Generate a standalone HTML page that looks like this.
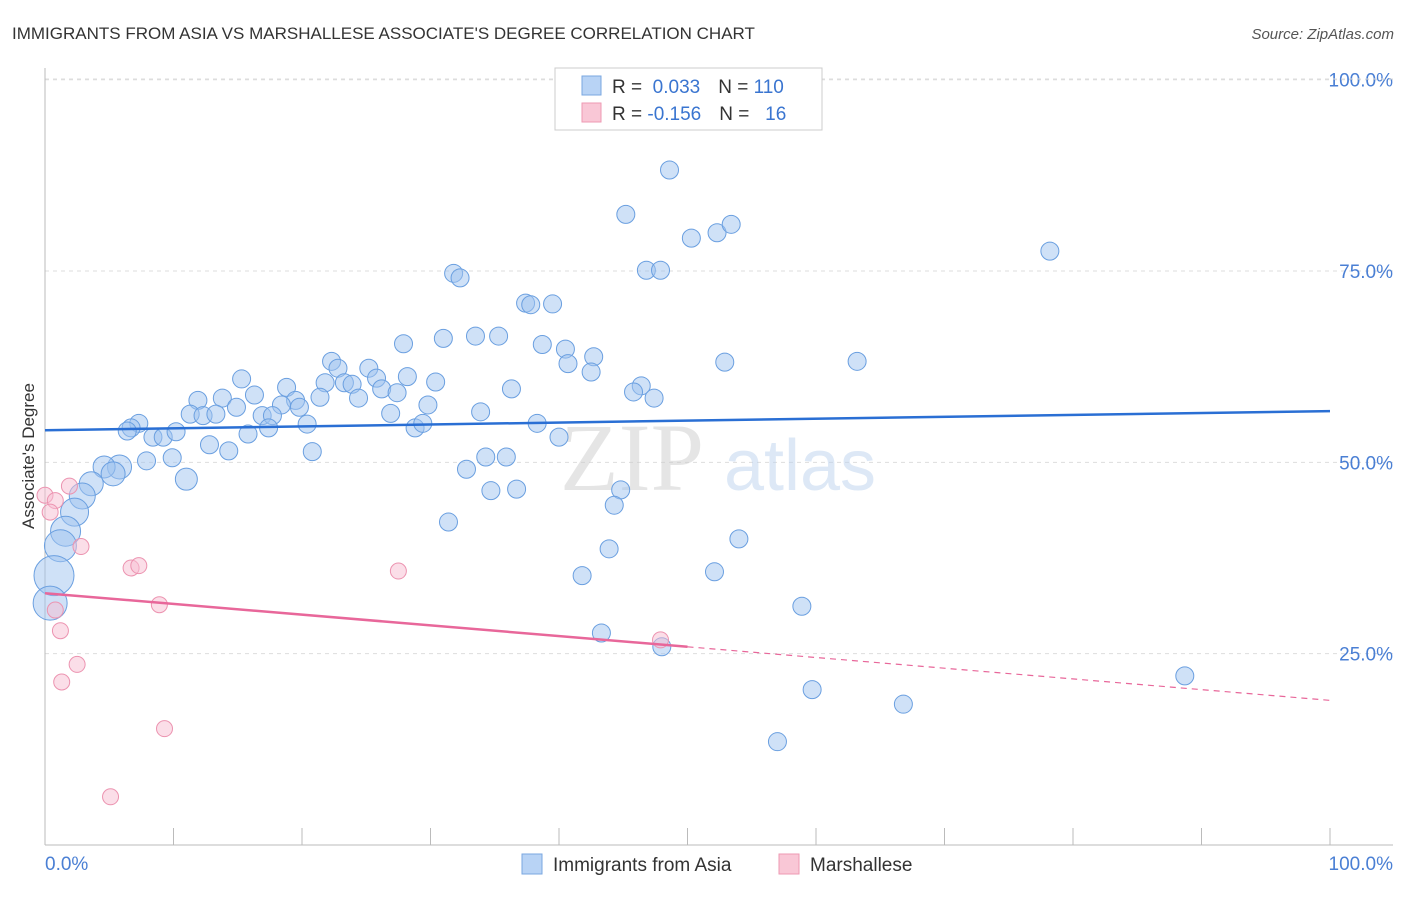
<!DOCTYPE html>
<html><head><meta charset="utf-8"><style>
body{margin:0;background:#fff;font-family:"Liberation Sans",sans-serif}
</style></head><body>
<svg id="chart" width="1406" height="892" xmlns="http://www.w3.org/2000/svg" style="font-family:'Liberation Sans',sans-serif">
<text x="12" y="39" font-size="17" fill="#333">IMMIGRANTS FROM ASIA VS MARSHALLESE ASSOCIATE'S DEGREE CORRELATION CHART</text>
<text x="1394" y="39" font-size="15" fill="#555" text-anchor="end" font-style="italic">Source: ZipAtlas.com</text>
<g id="grid"></g>
<g opacity="0.5">
<text x="632" y="490" font-size="96" fill="#ccc" text-anchor="middle" font-family="Liberation Serif">ZIP</text>
<text x="800" y="490" font-size="72" fill="#bcd3ee" text-anchor="middle">atlas</text>
</g>
<g id="pts"></g>
<g id="trends"></g>
<text transform="translate(34,456) rotate(-90)" font-size="17" fill="#333" text-anchor="middle">Associate's Degree</text>
<g>
<rect x="555" y="68" width="267" height="62" fill="#fff" stroke="#ccc"/>
<rect x="582" y="76" width="19" height="19" fill="#b8d3f5" stroke="#7aa7e0"/>
<rect x="582" y="103" width="19" height="19" fill="#f9c7d6" stroke="#ee9ab3"/>
<text x="612" y="93" font-size="19" fill="#333">R = <tspan fill="#3a75d0">&#160;0.033</tspan><tspan dx="18" fill="#333">N = </tspan><tspan fill="#3a75d0">110</tspan></text>
<text x="612" y="120" font-size="19" fill="#333">R = <tspan fill="#3a75d0">-0.156</tspan><tspan dx="18" fill="#333">N = </tspan><tspan fill="#3a75d0">&#160;&#160;16</tspan></text>
</g>
<g>
<rect x="522" y="854" width="20" height="20" fill="#b8d3f5" stroke="#7aa7e0"/>
<text x="553" y="871" font-size="19" fill="#333">Immigrants from Asia</text>
<rect x="779" y="854" width="20" height="20" fill="#f9c7d6" stroke="#ee9ab3"/>
<text x="810" y="871" font-size="19" fill="#333">Marshallese</text>
</g>
</svg>
<script>
const yTicks=[25,50,75,100];
const yTickLabels=["25.0%","50.0%","75.0%","100.0%"];
const xTicks=[0,10,20,30,40,50,60,70,80,90,100];
const asiaX=[78.2,48.6,45.2,50.3,52.3,53.4,46.8,47.9,31.8,32.3,37.4,37.8,39.5,31.0,33.5,35.3,27.9,38.7,40.5,42.7,40.7,42.5,52.9,63.2,22.3,22.8,25.2,25.8,28.2,30.4,21.8,23.3,23.9,26.2,27.4,36.3,46.4,45.8,47.4,24.4,21.4,18.8,19.5,19.8,15.3,16.3,13.8,11.9,14.9,18.4,16.9,17.7,11.3,12.3,13.3,26.9,29.8,33.9,20.4,17.4,15.8,28.8,29.4,38.3,40.0,7.3,6.7,6.4,8.4,9.2,10.2,12.8,14.3,20.8,7.9,9.9,34.3,35.9,32.8,5.8,4.6,5.3,11.0,3.6,2.9,2.3,1.6,1.2,0.7,0.4,34.7,36.7,44.8,44.3,31.4,43.9,54.0,41.8,52.1,58.9,43.3,48.0,88.7,59.7,66.8,57.0];
const asiaY=[77.6,88.2,82.4,79.3,80.0,81.1,75.1,75.1,74.7,74.1,70.8,70.6,70.7,66.2,66.5,66.5,65.5,65.4,64.8,63.8,62.9,61.8,63.1,63.2,63.2,62.3,62.3,61.0,61.2,60.5,60.4,60.4,60.2,59.6,59.1,59.6,60.0,59.2,58.4,58.4,58.5,59.8,58.1,57.2,60.9,58.8,58.4,58.1,57.2,57.5,56.1,56.1,56.3,56.1,56.3,56.4,57.5,56.6,55.0,54.5,53.7,54.5,55.1,55.1,53.3,55.1,54.5,54.1,53.3,53.3,54.0,52.3,51.5,51.4,50.2,50.6,50.7,50.7,49.1,49.4,49.4,48.5,47.8,47.2,45.6,43.5,41.0,39.1,35.2,31.6,46.3,46.5,46.4,44.4,42.2,38.7,40.0,35.2,35.7,31.2,27.7,25.9,22.1,20.3,18.4,13.5];
const asiaSize=asiaX.map((v,i)=>[12,11,12,11,12,13,14,15,16,20,17][i-79]||9);
const marshX=[0,0.8,0.4,1.9,2.8,6.7,7.3,8.9,0.8,1.2,2.5,1.3,9.3,5.1,27.5,47.9];
const marshY=[45.7,45.0,43.5,46.9,39.0,36.2,36.5,31.4,30.7,28.0,23.6,21.3,15.2,6.3,35.8,26.8];
const asiaTrend=[54.2,56.7];
const marshTrend=[32.9,18.9];
const X=v=>45+v*12.85, Y=v=>845-v*7.653;
const NS="http://www.w3.org/2000/svg";
function mk(t,a,p){const e=document.createElementNS(NS,t);for(const k in a)e.setAttribute(k,a[k]);p.appendChild(e);return e;}
const g=document.getElementById('grid');
yTicks.forEach((t,i)=>{
 const l=mk('line',{x1:45,x2:1393,y1:Y(t),y2:Y(t),stroke:'#ddd','stroke-dasharray':'4,4'},g);
 
 
 const tx=mk('text',{x:1393,y:Y(t)+7,'font-size':19,fill:'#4a7fd4','text-anchor':'end'},g);tx.textContent=yTickLabels[i];
 
 
});
mk('line',{x1:45,x2:1393,y1:79,y2:79,stroke:'#ddd','stroke-dasharray':'4,4'},g);
mk('line',{x1:45,x2:45,y1:68,y2:845,stroke:'#bbb'},g);
mk('line',{x1:45,x2:1393,y1:845,y2:845,stroke:'#bbb'},g);
xTicks.forEach(t=>{const l=mk('line',{x1:X(t),x2:X(t),y1:828,y2:845,stroke:'#bbb'},g);
 
 });
let a=mk('text',{x:45,y:870,'font-size':19,fill:'#4a7fd4'},g);a.textContent='0.0%';


a=mk('text',{x:1393,y:870,'font-size':19,fill:'#4a7fd4','text-anchor':'end'},g);a.textContent='100.0%';


const p=document.getElementById('pts');
asiaX.forEach((x,i)=>{const c=mk('circle',{cx:X(x),cy:Y(asiaY[i]),r:asiaSize[i],fill:'rgba(160,196,240,0.5)',stroke:'#6a9fe0','stroke-width':1},p);
 
 });
marshX.forEach((x,i)=>{const c=mk('circle',{cx:X(x),cy:Y(marshY[i]),r:8,fill:'rgba(248,190,210,0.5)',stroke:'#ec93b0','stroke-width':1},p);
 
 });
const tr=document.getElementById('trends');
let l=mk('line',{x1:X(0),y1:Y(asiaTrend[0]),x2:X(100),y2:Y(asiaTrend[1]),stroke:'#2a6fd4','stroke-width':2.5},tr);


const mm=(marshTrend[0]+marshTrend[1])/2;
l=mk('line',{x1:X(0),y1:Y(marshTrend[0]),x2:X(50),y2:Y(mm),stroke:'#e8679a','stroke-width':2.5},tr);


l=mk('line',{x1:X(50),y1:Y(mm),x2:X(100),y2:Y(marshTrend[1]),stroke:'#e8679a','stroke-width':1.2,'stroke-dasharray':'6,5'},tr);


</script>
</body></html>
